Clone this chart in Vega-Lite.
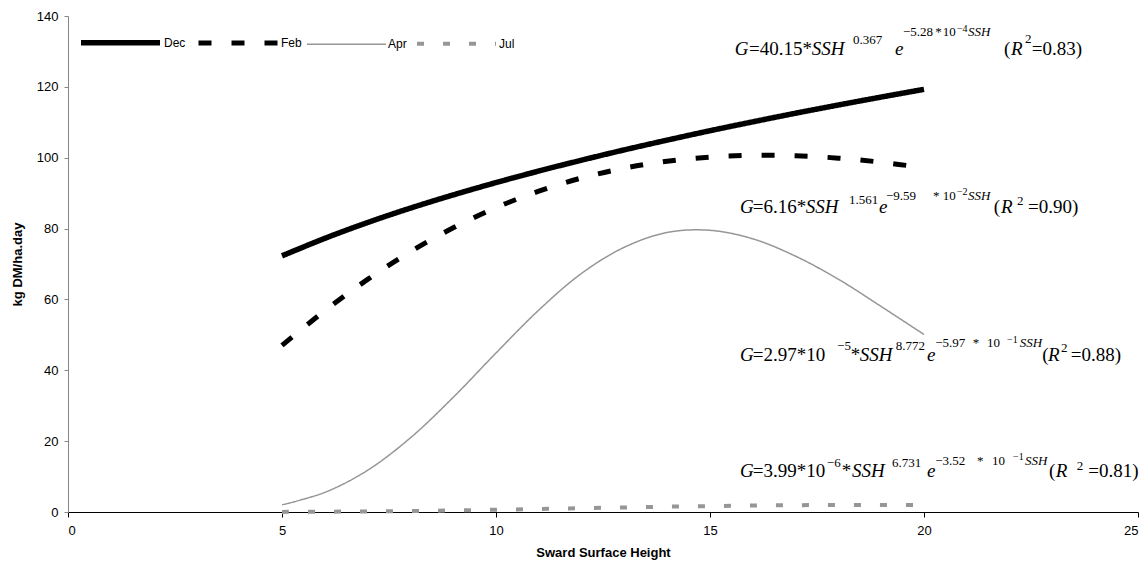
{
  "$schema": "https://vega.github.io/schema/vega-lite/v6.json",
  "width": 1070,
  "height": 496,
  "autosize": {"type": "none"},
  "padding": {"left": 68, "top": 16, "right": 10, "bottom": 51},
  "background": "white",
  "config": {
    "view": {"stroke": null},
    "axis": {"grid": false, "labelFont": "Liberation Sans", "labelFontSize": 13, "labelColor": "#000000", "titleFont": "Liberation Sans", "titleFontSize": 13, "titleFontWeight": "bold", "titleColor": "#000000"},
    "legend": {"labelFont": "Liberation Sans", "labelFontSize": 12, "labelColor": "#000000"}
  },
  "datasets": {
    "series": [
      {"s": "Dec", "x": 5, "g": 72.3}, {"s": "Dec", "x": 6, "g": 77.24}, {"s": "Dec", "x": 7, "g": 81.71}, {"s": "Dec", "x": 8, "g": 85.77},
      {"s": "Dec", "x": 9, "g": 89.5}, {"s": "Dec", "x": 10, "g": 92.98}, {"s": "Dec", "x": 11, "g": 96.24}, {"s": "Dec", "x": 12, "g": 99.31},
      {"s": "Dec", "x": 13, "g": 102.22}, {"s": "Dec", "x": 14, "g": 104.97}, {"s": "Dec", "x": 15, "g": 107.62}, {"s": "Dec", "x": 16, "g": 110.13},
      {"s": "Dec", "x": 17, "g": 112.56}, {"s": "Dec", "x": 18, "g": 114.88}, {"s": "Dec", "x": 19, "g": 117.12}, {"s": "Dec", "x": 20, "g": 119.3},
      {"s": "Feb", "x": 5, "g": 47.04}, {"s": "Feb", "x": 6, "g": 56.81}, {"s": "Feb", "x": 7, "g": 65.65}, {"s": "Feb", "x": 8, "g": 73.47},
      {"s": "Feb", "x": 9, "g": 80.21}, {"s": "Feb", "x": 10, "g": 85.92}, {"s": "Feb", "x": 11, "g": 90.57}, {"s": "Feb", "x": 12, "g": 94.29},
      {"s": "Feb", "x": 13, "g": 97.06}, {"s": "Feb", "x": 14, "g": 99.02}, {"s": "Feb", "x": 15, "g": 100.17}, {"s": "Feb", "x": 16, "g": 100.66},
      {"s": "Feb", "x": 17, "g": 100.54}, {"s": "Feb", "x": 18, "g": 99.88}, {"s": "Feb", "x": 19, "g": 98.72}, {"s": "Feb", "x": 20, "g": 97.16},
      {"s": "Apr", "x": 5, "g": 2.03}, {"s": "Apr", "x": 6, "g": 5.54}, {"s": "Apr", "x": 7, "g": 11.78}, {"s": "Apr", "x": 8, "g": 20.93},
      {"s": "Apr", "x": 9, "g": 32.36}, {"s": "Apr", "x": 10, "g": 44.88}, {"s": "Apr", "x": 11, "g": 57.0}, {"s": "Apr", "x": 12, "g": 67.36},
      {"s": "Apr", "x": 13, "g": 74.74}, {"s": "Apr", "x": 14, "g": 78.9}, {"s": "Apr", "x": 15, "g": 79.5}, {"s": "Apr", "x": 16, "g": 77.1},
      {"s": "Apr", "x": 17, "g": 72.2}, {"s": "Apr", "x": 18, "g": 65.7}, {"s": "Apr", "x": 19, "g": 58.0}, {"s": "Apr", "x": 20, "g": 50.1},
      {"s": "Jul", "x": 5, "g": 0.035}, {"s": "Jul", "x": 6, "g": 0.083}, {"s": "Jul", "x": 7, "g": 0.166}, {"s": "Jul", "x": 8, "g": 0.286},
      {"s": "Jul", "x": 9, "g": 0.445}, {"s": "Jul", "x": 10, "g": 0.636}, {"s": "Jul", "x": 11, "g": 0.849}, {"s": "Jul", "x": 12, "g": 1.072},
      {"s": "Jul", "x": 13, "g": 1.292}, {"s": "Jul", "x": 14, "g": 1.498}, {"s": "Jul", "x": 15, "g": 1.675}, {"s": "Jul", "x": 16, "g": 1.82},
      {"s": "Jul", "x": 17, "g": 1.92}, {"s": "Jul", "x": 18, "g": 1.99}, {"s": "Jul", "x": 19, "g": 2.01}, {"s": "Jul", "x": 20, "g": 2.0}
    ],
    "eq": [
      {"t": "G", "k": "v", "lvl": "base", "x": 15.58, "g": 128.99},
      {"t": "=40.15*", "k": "n", "lvl": "base", "x": 15.91, "g": 128.99},
      {"t": "SSH", "k": "v", "lvl": "base", "x": 17.38, "g": 128.99},
      {"t": "0.367", "k": "n", "lvl": "sup", "x": 18.34, "g": 132.09},
      {"t": "e", "k": "v", "lvl": "base", "x": 19.32, "g": 128.99},
      {"t": "−5.28", "k": "n", "lvl": "sup", "x": 19.51, "g": 134.35},
      {"t": "*", "k": "n", "lvl": "sup", "x": 20.26, "g": 134.35},
      {"t": "10", "k": "n", "lvl": "sup", "x": 20.44, "g": 134.35},
      {"t": "−4", "k": "n", "lvl": "sup2", "x": 20.77, "g": 135.48},
      {"t": "SSH", "k": "v", "lvl": "sup", "x": 21.03, "g": 134.35},
      {"t": "(", "k": "n", "lvl": "base", "x": 21.87, "g": 128.99},
      {"t": "R", "k": "v", "lvl": "base", "x": 22.03, "g": 128.99},
      {"t": "2", "k": "n", "lvl": "sup", "x": 22.36, "g": 132.37},
      {"t": "=0.83)", "k": "n", "lvl": "base", "x": 22.52, "g": 128.99},

      {"t": "G", "k": "v", "lvl": "base", "x": 15.7, "g": 84.39},
      {"t": "=6.16*", "k": "n", "lvl": "base", "x": 16.0, "g": 84.39},
      {"t": "SSH", "k": "v", "lvl": "base", "x": 17.24, "g": 84.39},
      {"t": "1.561", "k": "n", "lvl": "sup", "x": 18.25, "g": 86.93},
      {"t": "e", "k": "v", "lvl": "base", "x": 18.95, "g": 84.39},
      {"t": "−9.59", "k": "n", "lvl": "sup", "x": 19.11, "g": 88.06},
      {"t": "*", "k": "n", "lvl": "sup", "x": 20.21, "g": 88.06},
      {"t": "10", "k": "n", "lvl": "sup", "x": 20.44, "g": 88.06},
      {"t": "−2", "k": "n", "lvl": "sup2", "x": 20.77, "g": 89.47},
      {"t": "SSH", "k": "v", "lvl": "sup", "x": 21.03, "g": 88.06},
      {"t": "(", "k": "n", "lvl": "base", "x": 21.63, "g": 84.39},
      {"t": "R", "k": "v", "lvl": "base", "x": 21.8, "g": 84.39},
      {"t": "2", "k": "n", "lvl": "sup", "x": 22.17, "g": 86.65},
      {"t": "=0.90)", "k": "n", "lvl": "base", "x": 22.43, "g": 84.39},

      {"t": "G", "k": "v", "lvl": "base", "x": 15.7, "g": 42.62},
      {"t": "=2.97*10", "k": "n", "lvl": "base", "x": 16.0, "g": 42.62},
      {"t": "−5", "k": "n", "lvl": "sup", "x": 17.97, "g": 45.72},
      {"t": "*", "k": "n", "lvl": "base", "x": 18.29, "g": 42.62},
      {"t": "SSH", "k": "v", "lvl": "base", "x": 18.5, "g": 42.62},
      {"t": "8.772", "k": "n", "lvl": "sup", "x": 19.34, "g": 45.72},
      {"t": "e", "k": "v", "lvl": "base", "x": 20.07, "g": 42.62},
      {"t": "−5.97", "k": "n", "lvl": "sup", "x": 20.26, "g": 46.57},
      {"t": "*", "k": "n", "lvl": "sup", "x": 21.14, "g": 46.57},
      {"t": "10", "k": "n", "lvl": "sup", "x": 21.47, "g": 46.57},
      {"t": "−1", "k": "n", "lvl": "sup2", "x": 21.94, "g": 47.7},
      {"t": "SSH", "k": "v", "lvl": "sup", "x": 22.24, "g": 46.57},
      {"t": "(", "k": "n", "lvl": "base", "x": 22.76, "g": 42.62},
      {"t": "R", "k": "v", "lvl": "base", "x": 22.9, "g": 42.62},
      {"t": "2", "k": "n", "lvl": "sup", "x": 23.2, "g": 45.16},
      {"t": "=0.88)", "k": "n", "lvl": "base", "x": 23.43, "g": 42.62},

      {"t": "G", "k": "v", "lvl": "base", "x": 15.7, "g": 9.88},
      {"t": "=3.99*10", "k": "n", "lvl": "base", "x": 16.0, "g": 9.88},
      {"t": "−6", "k": "n", "lvl": "sup", "x": 17.73, "g": 12.7},
      {"t": "*", "k": "n", "lvl": "base", "x": 18.08, "g": 9.88},
      {"t": "SSH", "k": "v", "lvl": "base", "x": 18.32, "g": 9.88},
      {"t": "6.731", "k": "n", "lvl": "sup", "x": 19.25, "g": 12.7},
      {"t": "e", "k": "v", "lvl": "base", "x": 20.07, "g": 9.88},
      {"t": "−3.52", "k": "n", "lvl": "sup", "x": 20.26, "g": 13.27},
      {"t": "*", "k": "n", "lvl": "sup", "x": 21.24, "g": 13.27},
      {"t": "10", "k": "n", "lvl": "sup", "x": 21.59, "g": 13.27},
      {"t": "−1", "k": "n", "lvl": "sup2", "x": 22.08, "g": 14.68},
      {"t": "SSH", "k": "v", "lvl": "sup", "x": 22.36, "g": 13.27},
      {"t": "(", "k": "n", "lvl": "base", "x": 22.92, "g": 9.88},
      {"t": "R", "k": "v", "lvl": "base", "x": 23.08, "g": 9.88},
      {"t": "2", "k": "n", "lvl": "sup", "x": 23.57, "g": 11.85},
      {"t": "=0.81)", "k": "n", "lvl": "base", "x": 23.84, "g": 9.88}
    ]
  },
  "layer": [
    {
      "data": {"name": "series"},
      "mark": {"type": "line", "interpolate": "catmull-rom", "strokeCap": "butt", "clip": false},
      "encoding": {
        "x": {"field": "x", "type": "quantitative", "title": "Sward Surface Height",
              "scale": {"domain": [0, 25], "nice": false},
              "axis": {"values": [0, 5, 10, 15, 20, 25], "domainColor": "#000000", "tickColor": "#000000", "tickSize": 5, "labelPadding": 7, "titleY": 34, "titleBaseline": "top"}},
        "y": {"field": "g", "type": "quantitative", "title": "kg DM/ha.day",
              "scale": {"domain": [0, 140], "nice": false},
              "axis": {"values": [0, 20, 40, 60, 80, 100, 120, 140], "domainColor": "#868686", "tickColor": "#868686", "tickSize": 4, "labelPadding": 6, "titleX": -51, "titleY": 248, "titleBaseline": "middle", "titleAngle": -90}},
        "color": {"field": "s", "type": "nominal", "title": null,
                  "scale": {"domain": ["Dec", "Feb", "Apr", "Jul"], "range": ["#000000", "#000000", "#969696", "#969696"]},
                  "legend": {"orient": "none", "legendX": 10, "legendY": -16, "direction": "horizontal", "symbolType": "stroke", "symbolSize": 6241, "labelOffset": 1, "columnPadding": 2, "padding": 0}},
        "strokeDash": {"field": "s", "type": "nominal", "title": null,
                       "scale": {"domain": ["Dec", "Feb", "Apr", "Jul"], "range": [[1, 0], [13, 20], [1, 0], [7, 19]]},
                       "legend": {"orient": "none", "legendX": 10, "legendY": -16, "direction": "horizontal", "symbolType": "stroke", "symbolSize": 6241, "labelOffset": 1, "columnPadding": 2, "padding": 0}},
        "strokeWidth": {"field": "s", "type": "nominal", "title": null,
                        "scale": {"type": "ordinal", "domain": ["Dec", "Feb", "Apr", "Jul"], "range": [5.5, 5, 1.5, 4]},
                        "legend": {"orient": "none", "legendX": 10, "legendY": -16, "direction": "horizontal", "symbolType": "stroke", "symbolSize": 6241, "labelOffset": 1, "columnPadding": 2, "padding": 0}}
      }
    },
    {
      "data": {"name": "eq"},
      "transform": [{"filter": "datum.k == 'v'"}],
      "mark": {"type": "text", "font": "Liberation Serif", "fontStyle": "italic", "align": "left", "baseline": "alphabetic", "color": "#000000", "clip": false},
      "encoding": {
        "x": {"field": "x", "type": "quantitative", "title": "Sward Surface Height"},
        "y": {"field": "g", "type": "quantitative", "title": "kg DM/ha.day"},
        "text": {"field": "t"},
        "size": {"field": "lvl", "type": "nominal", "scale": {"type": "ordinal", "domain": ["base", "sup", "sup2"], "range": [19, 13, 10]}, "legend": null}
      }
    },
    {
      "data": {"name": "eq"},
      "transform": [{"filter": "datum.k == 'n'"}],
      "mark": {"type": "text", "font": "Liberation Serif", "fontStyle": "normal", "align": "left", "baseline": "alphabetic", "color": "#000000", "clip": false},
      "encoding": {
        "x": {"field": "x", "type": "quantitative", "title": "Sward Surface Height"},
        "y": {"field": "g", "type": "quantitative", "title": "kg DM/ha.day"},
        "text": {"field": "t"},
        "size": {"field": "lvl", "type": "nominal", "scale": {"type": "ordinal", "domain": ["base", "sup", "sup2"], "range": [19, 13, 10]}, "legend": null}
      }
    }
  ]
}
